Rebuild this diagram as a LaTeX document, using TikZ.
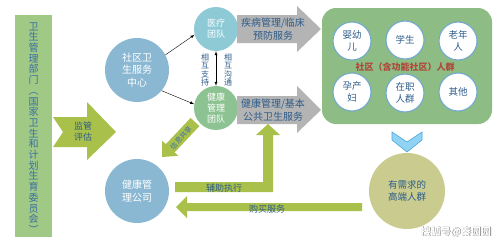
\documentclass[tikz,border=0pt]{standalone}
\usepackage{fontspec}
\setmainfont{Noto Sans CJK SC}
\definecolor{barg}{HTML}{9FC985}
\definecolor{txtb}{HTML}{3A6EA5}
\definecolor{dkb}{HTML}{2E5C8A}
\definecolor{chevg}{HTML}{A9C14B}
\definecolor{cblue}{HTML}{8AB8D3}
\definecolor{cteal}{HTML}{8ECAD6}
\definecolor{cgreen}{HTML}{8DC393}
\definecolor{agray}{HTML}{B4B4B4}
\definecolor{popg}{HTML}{8DBC84}
\definecolor{popb}{HTML}{72A9D0}
\definecolor{redt}{HTML}{B0473A}
\definecolor{khaki}{HTML}{C9CC8E}
\definecolor{vfill}{HTML}{90D3F2}
\definecolor{vline}{HTML}{4EA8DC}
\begin{document}
\begin{tikzpicture}[x=1pt,y=-1pt,
  bigc/.style={circle, fill=cblue, minimum size=64pt, inner sep=0pt, align=center, text=white, font=\fontsize{10}{12.5}\selectfont},
  teamc/.style={circle, minimum size=44pt, inner sep=0pt, align=center, text=white, font=\fontsize{9}{11}\selectfont},
  popc/.style={circle, fill=white, draw=popb, line width=1.1pt, minimum size=38pt, inner sep=0pt, align=center, text=dkb, font=\fontsize{9.5}{11.5}\selectfont},
  vlab/.style={align=center, inner sep=0pt, text=dkb, font=\fontsize{8}{8.6}\selectfont},
  arrtxt/.style={align=center, inner sep=0pt, text=dkb, font=\fontsize{10}{12.5}\selectfont},
  bartxt/.style={inner sep=0pt, text=dkb, font=\fontsize{9}{11}\selectfont}
]
\useasboundingbox (0,0) rectangle (498,241);

% left bar
\fill[barg] (15,15) rectangle (52,237);
\node[align=center, inner sep=0pt, text=txtb, font=\fontsize{10}{10.7}\selectfont] (gov) at (33.5,128)
 {卫\\生\\管\\理\\部\\门\\︵\\国\\家\\卫\\生\\和\\计\\划\\生\\育\\委\\员\\会\\︶};

% supervise chevron
\fill[chevg] (53,117) -- (87,117) -- (87,102) -- (116,132) -- (87,160) -- (87,147) -- (53,147) -- (63,132) -- cycle;
\node[align=center, inner sep=0pt, text=dkb, font=\fontsize{9}{11}\selectfont] (sup) at (83,132) {监管\\评估};

% circles
\node[bigc] (center) at (137,70) {社区卫\\生服务\\中心};
\node[bigc] (company) at (137,191) {健康管\\理公司};
\node[teamc, fill=cteal] (med) at (216,29) {医疗\\团队};
\node[teamc, fill=cgreen] (hm) at (216,108) {健康\\管理\\团队};

\draw[-latex, thin] (center.28) -- (med.195);
\draw[-latex, thin] (center.-40) -- (hm.170);
\draw[latex-latex, thin] (med.south) -- (hm.north);
\node[vlab] (sup1) at (205,70) {相\\互\\支\\持};
\node[vlab] (sup2) at (228,70) {相\\互\\沟\\通};

% gray arrows
\fill[agray] (237,15) -- (297,15) -- (297,6) -- (321,29) -- (297,52) -- (297,43) -- (237,43) -- cycle;
\node[arrtxt] (svc1) at (273,29) {疾病管理/临床\\预防服务};
\fill[agray] (237,96) -- (297,96) -- (297,86) -- (321,110) -- (297,133) -- (297,124) -- (237,124) -- cycle;
\node[arrtxt] (svc2) at (273,110) {健康管理/基本\\公共卫生服务};

% population box
\fill[popg, rounded corners=14pt] (322,8) rectangle (492,124);
\node[popc] (p1) at (352,41) {婴幼\\儿};
\node[popc] (p2) at (405,40) {学生};
\node[popc] (p3) at (458,41) {老年\\人};
\node[popc] (p4) at (352,92) {孕产\\妇};
\node[popc] (p5) at (405,93) {在职\\人群};
\node[popc] (p6) at (458,92) {其他};
\node[inner sep=0pt, text=redt, font=\fontsize{9}{11}\selectfont\bfseries] (poptitle) at (405,67) {社区（含功能社区）人群};

% down chevron
\filldraw[fill=vfill, draw=vline, line width=0.6pt] (392,132) -- (407,142) -- (422,132) -- (422,140) -- (407,152) -- (392,140) -- cycle;

% high-end group
\node[circle, fill=khaki, minimum size=76pt, inner sep=0pt, align=center, text=dkb, font=\fontsize{9.5}{12}\selectfont] (high) at (407,191) {有需求的\\高端人群};

% assist bar
\fill[chevg] (175,182) -- (263,182) -- (263,135) -- (256,135) -- (268,124) -- (280,135) -- (273,135) -- (273,192) -- (175,192) -- cycle;
\node[bartxt] (assist) at (224,188) {辅助执行};

% purchase bar
\fill[chevg] (362,203) -- (187,203) -- (187,196) -- (176,207) -- (187,218) -- (187,211) -- (362,211) -- cycle;
\node[bartxt] (buy) at (267,209) {购买服务};

% diagonal arrow
\fill[chevg] (199.4,126.1) -- (174.6,152.4) -- (178.2,155.8) -- (162,157) -- (162.2,140.8) -- (165.8,144.2) -- (190.6,117.9) -- cycle;
\node[inner sep=0pt, rotate=47, text=txtb, font=\fontsize{7}{8}\selectfont] (share) at (181,138) {信息共享};

% watermark
\node[inner sep=0pt, text=black!60, font=\fontsize{10}{12}\selectfont\bfseries] (wm0) at (456.6,232.6) {搜狐号@秦园园};
\node[inner sep=0pt, text=white, font=\fontsize{10}{12}\selectfont\bfseries] (wm) at (456,232) {搜狐号@秦园园};
\end{tikzpicture}
\end{document}
